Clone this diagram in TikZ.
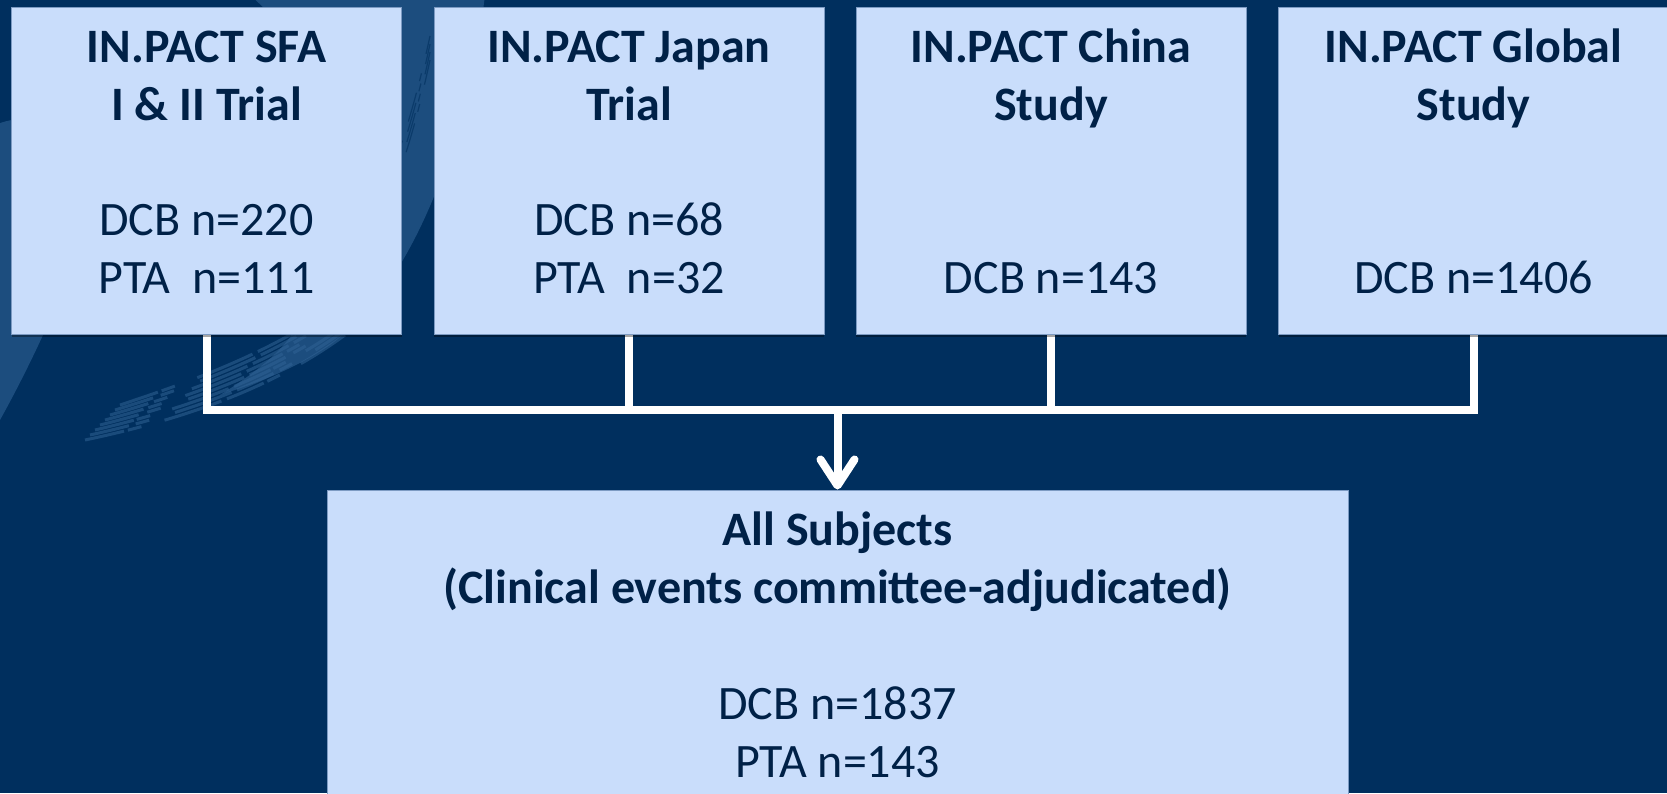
\documentclass[tikz,border=0pt]{standalone}
\usepackage{fontspec}
\setmainfont{Carlito}
\usetikzlibrary{arrows.meta,shadows}
\definecolor{bgnavy}{RGB}{0,47,94}
\definecolor{boxfill}{RGB}{201,221,251}
\definecolor{boxline}{RGB}{125,155,195}
\definecolor{txtnavy}{RGB}{0,33,71}
\definecolor{brushblue}{RGB}{48,98,148}
\pgfdeclarelayer{bg}
\pgfdeclarelayer{wires}
\pgfsetlayers{bg,wires,main}
\begin{document}
\begin{tikzpicture}[x=1pt,y=-1pt,
  box/.style={draw=boxline, line width=1pt, fill=boxfill, inner sep=0pt,
    minimum width=390pt, minimum height=327pt,
    drop shadow={shadow xshift=0pt, shadow yshift=-3pt, opacity=0.35, fill=black}},
  bigbox/.style={box, minimum width=1021pt, minimum height=330pt},
  label/.style={anchor=north, inner sep=0pt, align=center, text=txtnavy,
    font=\fontsize{48}{58}\selectfont},
  wire/.style={draw=white, line width=8pt, line join=miter, line cap=butt},
  brushband/.style={fill=brushblue, opacity=0.6}]
\useasboundingbox (0,0) rectangle (1667,793);
\begin{pgfonlayer}{bg}
  \fill[bgnavy] (0,0) rectangle (1667,793);
  % brush strokes in the upper left
  \fill[brushband] (250,-5) -- (485,-5) .. controls (470,120) and (420,280) .. (330,345)
     .. controls (290,372) and (250,385) .. (220,395)
     .. controls (260,370) and (290,345) .. (300,320)
     .. controls (370,250) and (390,120) .. (250,-5) -- cycle;
  \fill[brushband] (-5,125) .. controls (30,110) and (90,120) .. (110,150)
     .. controls (90,230) and (50,330) .. (0,420) -- (-5,420) -- cycle;
  \foreach \d/\p in {0/4,5/7,10/3,15/9,20/5,25/6,30/8,35/4}{
    \draw[brushblue, line width=3pt, opacity=0.55,
      dash pattern=on 40pt off \p pt on 14pt off 2\p pt on 60pt off 6pt]
      (85+\d,440-\d) .. controls (180,420-\d) and (270,390-\d) .. (345,335-\d);
  }
  \foreach \d in {0,8,16,24}{
    \draw[bgnavy, line width=1.2pt, opacity=0.6, dash pattern=on 30pt off 12pt on 8pt off 20pt]
      (300+\d/2,330-\d) .. controls (360,280-\d) and (400,200-\d) .. (430,60-\d);
  }
\end{pgfonlayer}

\node[box] (b1) at (206.5,170.5) {};
\node[box] (b2) at (629,170.5) {};
\node[box] (b3) at (1051,170.5) {};
\node[box] (b4) at (1473.5,170.5) {};
\node[bigbox] (all) at (837.5,655) {};

\node[label] (t1) at (206.5,21.4) {\strut\textbf{IN.PACT SFA}\\\textbf{I \& II Trial}\\[57pt]DCB n=220\\PTA\ \ n=111};
\node[label] (t2) at (629,21.4) {\strut\textbf{IN.PACT Japan}\\\textbf{Trial}\\[57pt]DCB n=68\\PTA\ \ n=32};
\node[label] (t3) at (1051,21.4) {\strut\textbf{IN.PACT China}\\\textbf{Study}\\[115pt]DCB n=143};
\node[label] (t4) at (1473.5,21.4) {\strut\textbf{IN.PACT Global}\\\textbf{Study}\\[115pt]DCB n=1406};
\node[label] (t5) at (837.5,504.4) {\strut\textbf{All Subjects}\\\textbf{(Clinical events committee-adjudicated)}\\[58pt]DCB n=1837\\PTA n=143};

\coordinate (hub) at (837.5,410);
\begin{pgfonlayer}{wires}
  \draw[wire] (b1.south) |- (hub) -| (b4.south);
  \draw[wire] (b2.south) -- (b2.south |- hub);
  \draw[wire] (b3.south) -- (b3.south |- hub);
\end{pgfonlayer}
\draw[wire, -{Straight Barb[length=26pt,width=34pt,round]}] ([yshift=4pt]hub) -- (all.north);
\end{tikzpicture}
\end{document}
